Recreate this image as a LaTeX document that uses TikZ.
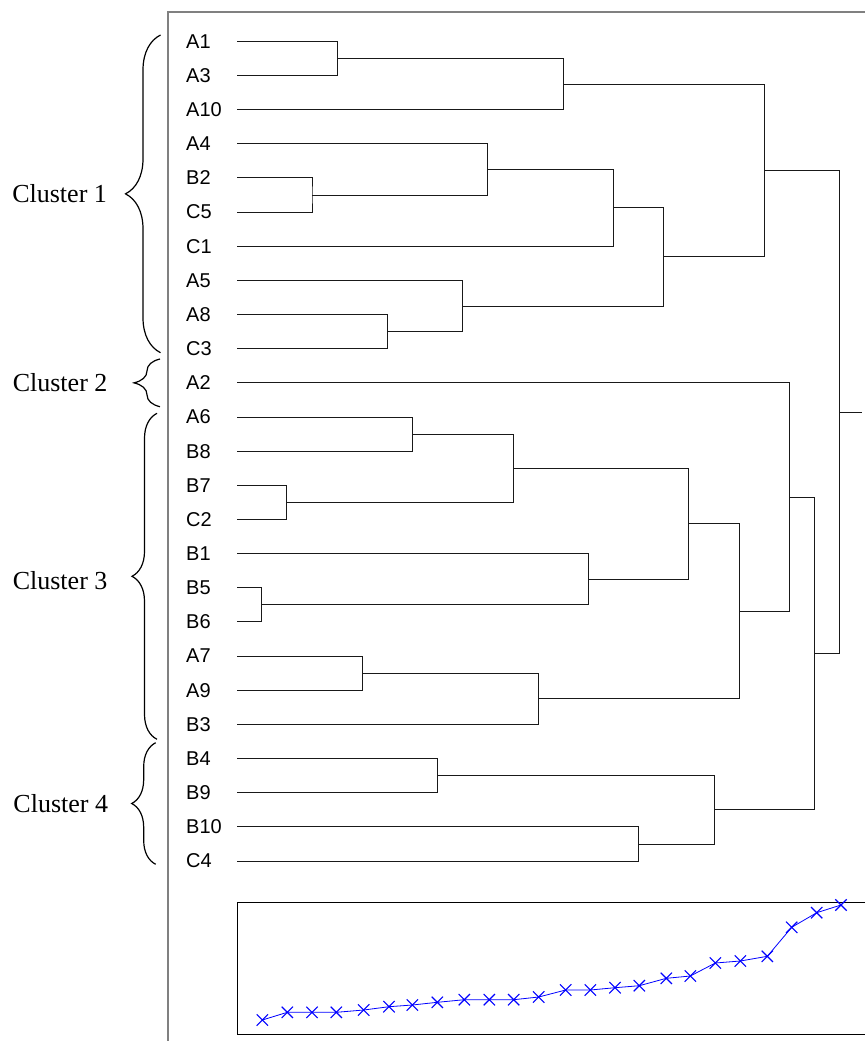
\documentclass[tikz,border=0pt]{standalone}
\usepackage{fontspec}
\setmainfont{Liberation Serif}
\setsansfont{Liberation Sans}
\usetikzlibrary{decorations.pathreplacing}

\begin{document}
\begin{tikzpicture}[x=1pt, y=-1pt,
    leaf/.style={anchor=west, inner sep=0pt, font=\sffamily\fontsize{20}{24}\selectfont},
    branch/.style={line width=0.9pt, black!90},
    frameline/.style={line width=1.3pt, black!50},
    clusterbrace/.style={decorate, line width=1.2pt, decoration={brace, amplitude=#1}},
    clustername/.style={inner sep=0pt, font=\fontsize{26}{30}\selectfont}]
    \useasboundingbox (0,0) rectangle (865,1041);
    % outer frame
    \draw[frameline] (168,1041) -- (168,12) -- (865,12);
    % leaves
    \foreach \lab [count=\i from 0] in {A1,A3,A10,A4,B2,C5,C1,A5,A8,C3,A2,A6,B8,B7,C2,B1,B5,B6,A7,A9,B3,B4,B9,B10,C4} {
        \node[leaf] (\lab) at (186,{41.3+34.155*\i}) {\lab};
        \coordinate (e\lab) at (237,{41.3+34.155*\i});
    }
    % merges, lowest first
    \foreach \k/\ca/\cb/\ym in {0/eB5/eB6/604.9, 1/eB7/eC2/502.4, 2/eB2/eC5/195.0,
        3/eA1/eA3/58.4, 4/eA7/eA9/673.2, 5/eA8/eC3/331.6, 6/eA6/eB8/434.1,
        7/eB4/eB9/775.6, 8/eA5/m5/306.0, 9/eA4/m2/169.4, 10/m6/m1/468.3,
        11/m4/eB3/698.8, 12/m3/eA10/84.0, 13/eB1/m0/579.3, 14/m9/eC1/207.8,
        15/eB10/eC4/844.0, 16/m14/m8/256.9, 17/m10/m13/523.8, 18/m7/m15/809.8,
        19/m17/m11/611.3, 20/m12/m16/170.5, 21/eA2/m19/497.1, 22/m21/m18/653.4,
        23/m20/m22/412.0} {
        \coordinate (m\k) at ({236.6+25.13*(\k+1)},\ym);
        \draw[branch] (\ca) -| (m\k) |- (\cb);
    }
    \coordinate (root) at (862,412.0);
    \draw[branch] (m23) -- (root);
    % clusters
    \draw[clusterbrace=35] (160.5,352.7) -- (160.5,35)
        node[clustername, midway, left=53pt] (c1) {Cluster 1};
    \draw[clusterbrace=26] (160,406.7) -- (160,359)
        node[clustername, midway, left=52pt] (c2) {Cluster 2};
    \draw[clusterbrace=25] (157,739.3) -- (157,413.3)
        node[clustername, midway, left=49pt, yshift=-4pt] (c3) {Cluster 3};
    \draw[clusterbrace=24] (155.7,864.3) -- (155.7,742.7)
        node[clustername, midway, left=47pt] (c4) {Cluster 4};
    % merge heights
    \draw[line width=0.9pt] (865,902.3) -- (237.3,902.3) -- (237.3,1034) -- (865,1034);
    \draw[blue, line width=0.8pt, mark=x, mark size=8pt, mark options={line width=1.1pt}]
        plot coordinates {(262.3,1020) (287.3,1012.3) (312,1012.3) (336.3,1012.3)
        (363.7,1010) (389,1006.7) (412.3,1005) (437.3,1002.3) (464.3,999.7)
        (489.3,999.7) (513.7,999.7) (538.7,997) (565.7,990) (590.3,990)
        (615,987.7) (639.3,985.7) (666.3,978.3) (690.3,976) (715.3,963)
        (740.3,961) (767.3,956.3) (791.7,927.3) (816.7,912.7) (841,905)};
\end{tikzpicture}
\end{document}
